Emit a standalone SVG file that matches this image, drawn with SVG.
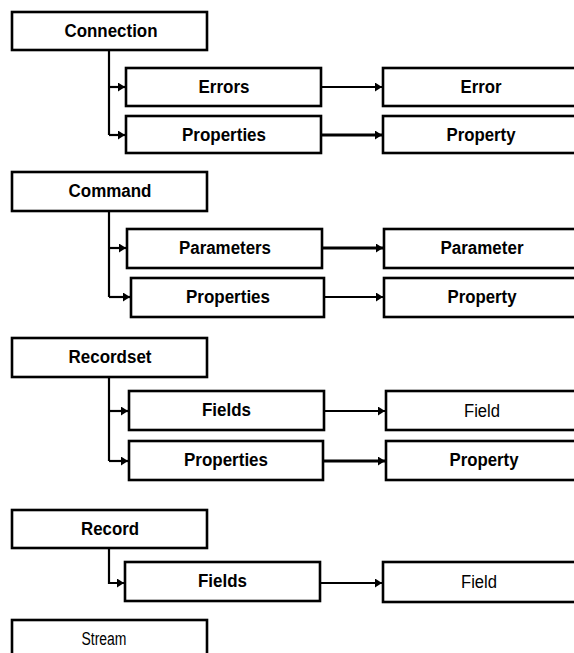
<svg xmlns="http://www.w3.org/2000/svg" width="574" height="653" viewBox="0 0 574 653">
<style>
.box{fill:#fff;stroke:#000;stroke-width:2.6}
.lbl{font-family:"Liberation Sans",Arial,sans-serif;font-weight:bold;font-size:18px;text-anchor:middle;fill:#000}
.nar{font-family:"Liberation Sans Narrow","Liberation Sans",Arial,sans-serif;font-weight:normal;font-size:18px;text-anchor:middle;fill:#000}
.ln{fill:none;stroke:#000;stroke-width:2.2}
.th{stroke-width:3}
</style>
<defs>
<marker id="ar" markerUnits="userSpaceOnUse" markerWidth="8" markerHeight="9" refX="7" refY="4.5" orient="auto">
<path d="M0,0 L7,4.5 L0,9 z" fill="#000"/>
</marker>
</defs>
<rect width="574" height="653" fill="#fff"/>
<g id="connectors">
<path class="ln" d="M109,50 V135"/>
<path class="ln" d="M109,87 H125" marker-end="url(#ar)"/>
<path class="ln" d="M109,135 H125" marker-end="url(#ar)"/>
<path class="ln" d="M321,87 H382" marker-end="url(#ar)"/>
<path class="ln th" d="M321,135 H382" marker-end="url(#ar)"/>
<path class="ln" d="M109,211 V297"/>
<path class="ln" d="M109,248 H126" marker-end="url(#ar)"/>
<path class="ln" d="M109,297 H130" marker-end="url(#ar)"/>
<path class="ln th" d="M322,248 H383" marker-end="url(#ar)"/>
<path class="ln" d="M324,297 H383" marker-end="url(#ar)"/>
<path class="ln" d="M109,377 V461"/>
<path class="ln" d="M109,411 H128" marker-end="url(#ar)"/>
<path class="ln" d="M109,461 H128" marker-end="url(#ar)"/>
<path class="ln" d="M324,411 H385" marker-end="url(#ar)"/>
<path class="ln th" d="M323,461 H385" marker-end="url(#ar)"/>
<path class="ln" d="M109,548 V583 H124" marker-end="url(#ar)"/>
<path class="ln" d="M320,583 H382" marker-end="url(#ar)"/>
</g>
<g id="connection"><rect class="box" x="12" y="12" width="195" height="38"/><text class="lbl" x="111" y="36.5" textLength="93" lengthAdjust="spacingAndGlyphs">Connection</text></g>
<g id="conn-errors"><rect class="box" x="126" y="68" width="195" height="38"/><text class="lbl" x="224" y="93" textLength="51" lengthAdjust="spacingAndGlyphs">Errors</text></g>
<g id="conn-error"><rect class="box" x="383" y="68" width="196" height="38"/><text class="lbl" x="481" y="93" textLength="41" lengthAdjust="spacingAndGlyphs">Error</text></g>
<g id="conn-properties"><rect class="box" x="126" y="116" width="195" height="37"/><text class="lbl" x="224" y="140.5" textLength="84" lengthAdjust="spacingAndGlyphs">Properties</text></g>
<g id="conn-property"><rect class="box" x="383" y="116" width="196" height="37"/><text class="lbl" x="481" y="140.5" textLength="69" lengthAdjust="spacingAndGlyphs">Property</text></g>

<g id="command"><rect class="box" x="12" y="172" width="195" height="39"/><text class="lbl" x="110" y="197" textLength="83" lengthAdjust="spacingAndGlyphs">Command</text></g>
<g id="cmd-parameters"><rect class="box" x="127" y="229" width="195" height="39"/><text class="lbl" x="225" y="254" textLength="92" lengthAdjust="spacingAndGlyphs">Parameters</text></g>
<g id="cmd-parameter"><rect class="box" x="384" y="229" width="196" height="39"/><text class="lbl" x="482" y="254" textLength="83" lengthAdjust="spacingAndGlyphs">Parameter</text></g>
<g id="cmd-properties"><rect class="box" x="131" y="278" width="193" height="39"/><text class="lbl" x="228" y="303" textLength="84" lengthAdjust="spacingAndGlyphs">Properties</text></g>
<g id="cmd-property"><rect class="box" x="384" y="278" width="196" height="39"/><text class="lbl" x="482" y="303" textLength="69" lengthAdjust="spacingAndGlyphs">Property</text></g>

<g id="recordset"><rect class="box" x="12" y="338" width="195" height="39"/><text class="lbl" x="110" y="363" textLength="83" lengthAdjust="spacingAndGlyphs">Recordset</text></g>
<g id="rs-fields"><rect class="box" x="129" y="391" width="195" height="39"/><text class="lbl" x="226.5" y="416" textLength="49" lengthAdjust="spacingAndGlyphs">Fields</text></g>
<g id="rs-field"><rect class="box" x="386" y="391" width="196" height="39"/><text class="nar" x="482" y="416.5" textLength="36" lengthAdjust="spacingAndGlyphs">Field</text></g>
<g id="rs-properties"><rect class="box" x="129" y="441" width="194" height="39"/><text class="lbl" x="226" y="466" textLength="84" lengthAdjust="spacingAndGlyphs">Properties</text></g>
<g id="rs-property"><rect class="box" x="386" y="441" width="196" height="39"/><text class="lbl" x="484" y="466" textLength="69" lengthAdjust="spacingAndGlyphs">Property</text></g>

<g id="record"><rect class="box" x="12" y="510" width="195" height="38"/><text class="lbl" x="110" y="534.5" textLength="58" lengthAdjust="spacingAndGlyphs">Record</text></g>
<g id="rec-fields"><rect class="box" x="125" y="562" width="195" height="39"/><text class="lbl" x="222.5" y="587" textLength="49" lengthAdjust="spacingAndGlyphs">Fields</text></g>
<g id="rec-field"><rect class="box" x="383" y="562" width="196" height="40"/><text class="nar" x="479" y="588" textLength="36" lengthAdjust="spacingAndGlyphs">Field</text></g>

<g id="stream"><rect class="box" x="12" y="620" width="195" height="50"/><text class="nar" x="104" y="645" textLength="45" lengthAdjust="spacingAndGlyphs">Stream</text></g>
</svg>
